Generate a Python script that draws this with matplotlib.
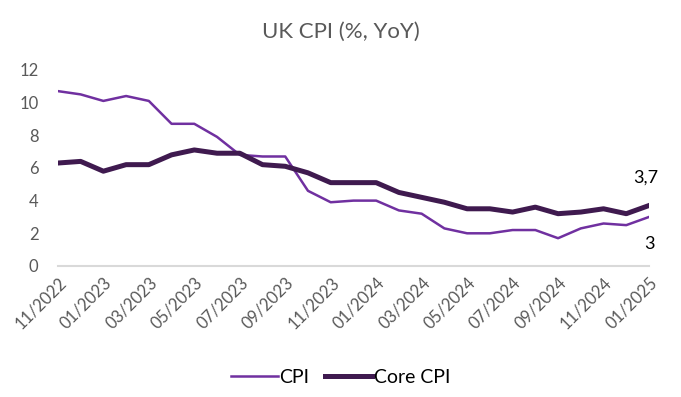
import matplotlib.pyplot as plt
import numpy as np

plt.rcParams['font.family'] = ['Lato', 'DejaVu Sans']

meses = ['11/2022', '12/2022', '01/2023', '02/2023', '03/2023', '04/2023', '05/2023',
         '06/2023', '07/2023', '08/2023', '09/2023', '10/2023', '11/2023', '12/2023',
         '01/2024', '02/2024', '03/2024', '04/2024', '05/2024', '06/2024', '07/2024',
         '08/2024', '09/2024', '10/2024', '11/2024', '12/2024', '01/2025']
cpi = [10.7, 10.5, 10.1, 10.4, 10.1, 8.7, 8.7, 7.9, 6.8, 6.7, 6.7, 4.6, 3.9, 4.0,
       4.0, 3.4, 3.2, 2.3, 2.0, 2.0, 2.2, 2.2, 1.7, 2.3, 2.6, 2.5, 3.0]
core = [6.3, 6.4, 5.8, 6.2, 6.2, 6.8, 7.1, 6.9, 6.9, 6.2, 6.1, 5.7, 5.1, 5.1,
        5.1, 4.5, 4.2, 3.9, 3.5, 3.5, 3.3, 3.6, 3.2, 3.3, 3.5, 3.2, 3.7]

cinza = '#595959'
x = np.arange(len(meses))

fig = plt.figure(figsize=(6.81, 3.97), dpi=100)
ax = fig.add_axes([0.085, 0.33, 0.868, 0.494])

ax.plot(x, cpi, color='#7030A0', lw=1.8, label='CPI')
ax.plot(x, core, color='#3F1A4F', lw=3.6, label='Core CPI')

ax.set_xlim(0, len(meses) - 1)
ax.set_ylim(0, 12)
ax.set_yticks(range(0, 13, 2))
ax.set_xticks(x[::2])
ax.set_xticklabels(meses[::2], rotation=45, ha='right', rotation_mode='anchor')
ax.tick_params(axis='both', length=0, colors=cinza, labelsize=12)
ax.tick_params(axis='y', pad=14)
ax.tick_params(axis='x', pad=6)

for s in ['top', 'right', 'left']:
    ax.spines[s].set_visible(False)
ax.spines['bottom'].set_color('#D9D9D9')
ax.spines['bottom'].set_linewidth(1.5)

ax.annotate('3,7', (x[-1], core[-1]), xytext=(-2, 14), textcoords='offset points',
            ha='center', va='bottom', fontsize=13, color='black')
ax.annotate('3', (x[-1], cpi[-1]), xytext=(0, -14), textcoords='offset points',
            ha='center', va='top', fontsize=13, color='black')

fig.suptitle('UK CPI (%, YoY)', y=0.945, fontsize=16, color=cinza)

fig.legend(loc='center', bbox_to_anchor=(0.5, 0.05), ncol=2, frameon=False,
           fontsize=14, handlelength=2.4, columnspacing=0.8, handletextpad=0.1)

plt.savefig('out.png', dpi=100)
